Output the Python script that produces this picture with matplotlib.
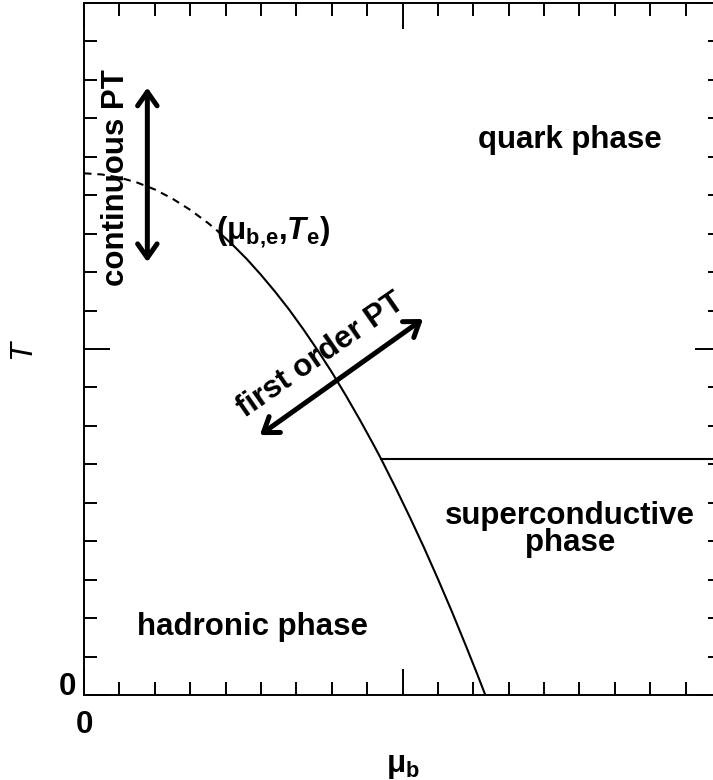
import matplotlib
matplotlib.use('Agg')
import matplotlib.pyplot as plt
from matplotlib.ticker import MultipleLocator

plt.rcParams['font.family'] = ['Liberation Sans', 'DejaVu Sans']
plt.rcParams['font.weight'] = 'bold'
plt.rcParams['mathtext.fontset'] = 'custom'
plt.rcParams['mathtext.rm'] = 'Liberation Sans:bold'
plt.rcParams['mathtext.it'] = 'Liberation Sans:bold:italic'
plt.rcParams['mathtext.bf'] = 'Liberation Sans:bold'
plt.rcParams['mathtext.sf'] = 'Liberation Sans'

# ==========================================
# data (axis units)
# ==========================================
# crossover line (dashed) from mu_b = 0 up to the endpoint
mu_cross = [0.0, 0.5, 1.0, 1.5, 2.0, 2.5, 3.0, 3.5, 3.8]
t_cross = [13.57, 13.54, 13.46, 13.33, 13.15, 12.91, 12.62, 12.28, 12.05]

# first order line (solid) from the endpoint down to T = 0
mu_first = [3.8, 4.2, 4.6, 5.0, 5.4, 5.8, 6.2, 6.6, 7.0, 7.4, 7.8, 8.2,
            8.39, 8.8, 9.2, 9.6, 10.0, 10.4, 10.8, 11.1, 11.34]
t_first = [12.05, 11.71, 11.34, 10.93, 10.49, 10.02, 9.51, 8.97, 8.40, 7.79,
           7.15, 6.48, 6.15, 5.40, 4.64, 3.85, 3.02, 2.16, 1.26, 0.57, 0.0]

# boundary of the superconductive phase
mu_sc = [8.39, 18.0]
t_sc = [6.15, 6.15]

# double arrows (start, end)
arrow_cont = [(1.79, 15.80), (1.79, 11.26)]
arrow_first = [(4.97, 6.76), (9.58, 9.78)]

FS = 22.5

fig = plt.figure(figsize=(7.13, 7.8), dpi=100)
ax = fig.add_axes([84 / 713, 85 / 780, 637 / 713, 692 / 780])

ax.plot(mu_cross, t_cross, color='k', lw=1.5, dashes=(3.6, 2.8))
ax.plot(mu_first, t_first, color='k', lw=1.5)
ax.plot(mu_sc, t_sc, color='k', lw=1.5)

for (x0, y0), (x1, y1) in [arrow_cont, arrow_first]:
    ax.annotate('', xy=(x1, y1), xytext=(x0, y0),
                arrowprops=dict(arrowstyle='<->,head_length=1.0,head_width=0.7',
                                lw=3.6, color='k', shrinkA=0, shrinkB=0,
                                mutation_scale=10))

ax.text(0.9, 13.45, 'continuous PT', rotation=90, fontsize=FS,
        ha='center', va='center')
ax.text(6.69, 8.84, 'first order PT', rotation=34.8, fontsize=FS,
        ha='center', va='center')
ax.text(13.73, 14.43, 'quark phase', fontsize=FS, ha='center', va='center')
ax.text(13.73, 4.30, 'superconductive\nphase', fontsize=FS, ha='center',
        va='center', linespacing=0.85)
ax.text(4.76, 1.76, 'hadronic phase', fontsize=FS, ha='center', va='center')
ax.text(5.34, 12.05,
        r'$\mathrm{(}\mathsf{\mu}_{\mathrm{b{,}e}}\mathrm{{,}}\mathit{T}_{\mathrm{e}}\mathrm{)}$',
        fontsize=FS, ha='center', va='center')

ax.set_xlim(0, 18)
ax.set_ylim(0, 18)
ax.set_xticks([0, 9, 18], ['0', '', ''])
ax.set_yticks([0, 9, 18], ['0', '', ''])
ax.xaxis.set_minor_locator(MultipleLocator(1))
ax.yaxis.set_minor_locator(MultipleLocator(1))
ax.tick_params(which='both', direction='in', top=True, right=True,
               width=1.4, labelsize=FS, colors='k')
ax.tick_params(which='major', length=18.7)
ax.tick_params(which='minor', length=9.4)
ax.tick_params(axis='x', pad=11)
ax.tick_params(axis='y', pad=6)
for lab in ax.get_yticklabels():
    lab.set_va('baseline')
for sp in ax.spines.values():
    sp.set_linewidth(1.4)

ax.set_xlabel(r'$\mathsf{\mu}_{\mathrm{b}}$', fontsize=FS)
ax.xaxis.set_label_coords(0.5, -0.1026)
ax.xaxis.label.set_va('center')
ax.set_ylabel('T', fontsize=FS, style='italic')
ax.yaxis.set_label_coords(-62 / 637, 0.5)
ax.yaxis.label.set_va('center')

fig.savefig('out.png', dpi=100)
plt.close('all')
